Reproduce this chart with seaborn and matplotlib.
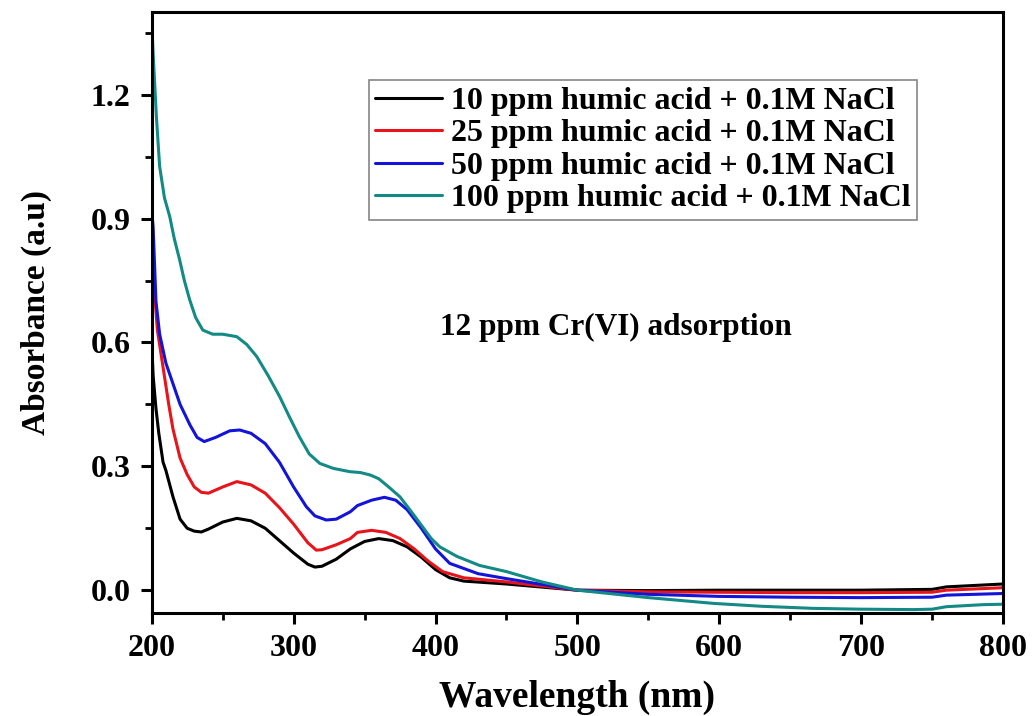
import matplotlib
matplotlib.use("Agg")
import matplotlib.pyplot as plt
from matplotlib.ticker import MultipleLocator
import seaborn as sns
import pandas as pd

# values
wl_10 = [200, 201, 203, 205, 208, 210, 215, 220, 225, 230, 235, 240, 250, 260, 270, 280, 290, 300, 310, 315,
         320, 330, 340, 350, 360, 370, 380, 390, 400, 410, 420, 450, 500, 550, 600, 650, 700, 750, 760, 800]
abs_10 = [0.60, 0.52, 0.44, 0.38, 0.31, 0.29, 0.226, 0.172, 0.15, 0.143, 0.141, 0.148, 0.165, 0.174, 0.168, 0.15, 0.12, 0.09, 0.063, 0.056,
          0.058, 0.075, 0.10, 0.118, 0.125, 0.12, 0.105, 0.08, 0.05, 0.03, 0.022, 0.015, 0.0, -0.001, 0.0, 0.0, 0.0, 0.002, 0.008, 0.015]

wl_25 = [200, 201, 202, 204, 208, 212, 215, 220, 225, 230, 235, 240, 250, 260, 270, 280, 290, 300, 310, 316,
         320, 330, 340, 345, 355, 365, 375, 385, 395, 405, 420, 450, 500, 550, 600, 650, 700, 750, 760, 800]
abs_25 = [0.85, 0.80, 0.72, 0.63, 0.54, 0.45, 0.39, 0.32, 0.28, 0.25, 0.237, 0.235, 0.25, 0.263, 0.255, 0.235, 0.20, 0.16, 0.115, 0.097,
          0.098, 0.11, 0.125, 0.14, 0.145, 0.14, 0.125, 0.10, 0.07, 0.045, 0.03, 0.02, 0.0, -0.004, -0.005, -0.006, -0.006, -0.005, 0.0, 0.006]

wl_50 = [200, 201, 203, 205.6, 210, 215, 220, 227, 232, 237, 245, 255, 262, 270, 280, 290, 300, 309, 315, 323,
         330, 340, 345, 355, 364, 372, 380, 390, 400, 410, 430, 450, 500, 550, 600, 650, 700, 750, 760, 800]
abs_50 = [0.92, 0.88, 0.70, 0.62, 0.55, 0.50, 0.45, 0.40, 0.37, 0.36, 0.37, 0.386, 0.388, 0.38, 0.355, 0.31, 0.25, 0.202, 0.18, 0.17,
          0.172, 0.19, 0.205, 0.218, 0.225, 0.218, 0.195, 0.15, 0.10, 0.065, 0.04, 0.028, 0.0, -0.01, -0.015, -0.017, -0.018, -0.017, -0.012, -0.008]

wl_100 = [200, 201, 203.3, 205.6, 209, 212.7, 216, 219.7, 223, 226.8, 231, 236, 243, 250, 260, 267, 274, 282, 290, 297,
          304, 311, 318.5, 328, 339.6, 347, 354, 360, 367, 375, 383, 391, 397, 403, 415, 431, 450, 475, 500, 550,
          596, 630, 666, 700, 737, 750, 760, 786, 800]
abs_100 = [1.38, 1.30, 1.147, 1.026, 0.95, 0.905, 0.85, 0.80, 0.75, 0.703, 0.66, 0.63, 0.62, 0.62, 0.614, 0.595, 0.566, 0.52, 0.47, 0.42,
           0.372, 0.33, 0.307, 0.295, 0.287, 0.285, 0.279, 0.27, 0.25, 0.226, 0.19, 0.153, 0.125, 0.105, 0.082, 0.06, 0.045, 0.02, 0.0, -0.018,
           -0.032, -0.039, -0.044, -0.046, -0.047, -0.046, -0.04, -0.035, -0.034]

labels = ["10 ppm humic acid + 0.1M NaCl", "25 ppm humic acid + 0.1M NaCl",
          "50 ppm humic acid + 0.1M NaCl", "100 ppm humic acid + 0.1M NaCl"]
colors = ["#000000", "#e8141b", "#1414d8", "#138a85"]

frames = []
for lab, w, a in zip(labels, [wl_10, wl_25, wl_50, wl_100], [abs_10, abs_25, abs_50, abs_100]):
    frames.append(pd.DataFrame({"Wavelength": w, "Absorbance": a, "sample": lab}))
df = pd.concat(frames, ignore_index=True)

sns.set_theme(style="ticks")
plt.rcParams["font.family"] = ["Liberation Serif", "DejaVu Serif"]
plt.rcParams["font.weight"] = "bold"
plt.rcParams["text.color"] = "black"
plt.rcParams["axes.labelcolor"] = "black"

fig, ax = plt.subplots(figsize=(10.32, 7.16), dpi=100)
fig.subplots_adjust(left=0.147, right=0.972, top=0.983, bottom=0.144)

sns.lineplot(data=df, x="Wavelength", y="Absorbance", hue="sample", hue_order=labels,
             palette=colors, linewidth=2.2, sort=True, estimator=None, ax=ax)

ax.set_xlim(200, 800)
ax.set_ylim(-0.055, 1.40)
ax.xaxis.set_major_locator(MultipleLocator(100))
ax.xaxis.set_minor_locator(MultipleLocator(50))
ax.yaxis.set_major_locator(MultipleLocator(0.3))
ax.yaxis.set_minor_locator(MultipleLocator(0.15))
ax.yaxis.set_major_formatter(matplotlib.ticker.FormatStrFormatter("%.1f"))

for s in ax.spines.values():
    s.set_linewidth(2.2)
    s.set_color("black")
ax.tick_params(which="major", direction="out", length=8, width=2.2, labelsize=23, pad=7,
               colors="black", labelcolor="black")
ax.tick_params(which="minor", direction="out", length=5, width=2.0, colors="black")
ax.tick_params(top=False, right=False, which="both")

ax.set_xlabel("Wavelength (nm)", fontsize=27, fontweight="bold", labelpad=12, color="black")
ax.set_ylabel("Absorbance (a.u)", fontsize=24, fontweight="bold", labelpad=28, color="black")

ax.text(403, 0.637, "12 ppm Cr(VI) adsorption", fontsize=22.5, fontweight="bold",
        va="center", ha="left", color="black")

leg = ax.legend(loc="upper left", bbox_to_anchor=(0.255, 0.887), fontsize=23, frameon=True,
                fancybox=False, edgecolor="#666666", handlelength=2.1, handletextpad=0.28,
                labelspacing=0.1, borderpad=0.2, borderaxespad=0)
leg.get_frame().set_linewidth(1.2)
for line in leg.get_lines():
    line.set_linewidth(2.2)
for t in leg.get_texts():
    t.set_fontweight("bold")
    t.set_color("black")

fig.savefig("out.png", dpi=100)
